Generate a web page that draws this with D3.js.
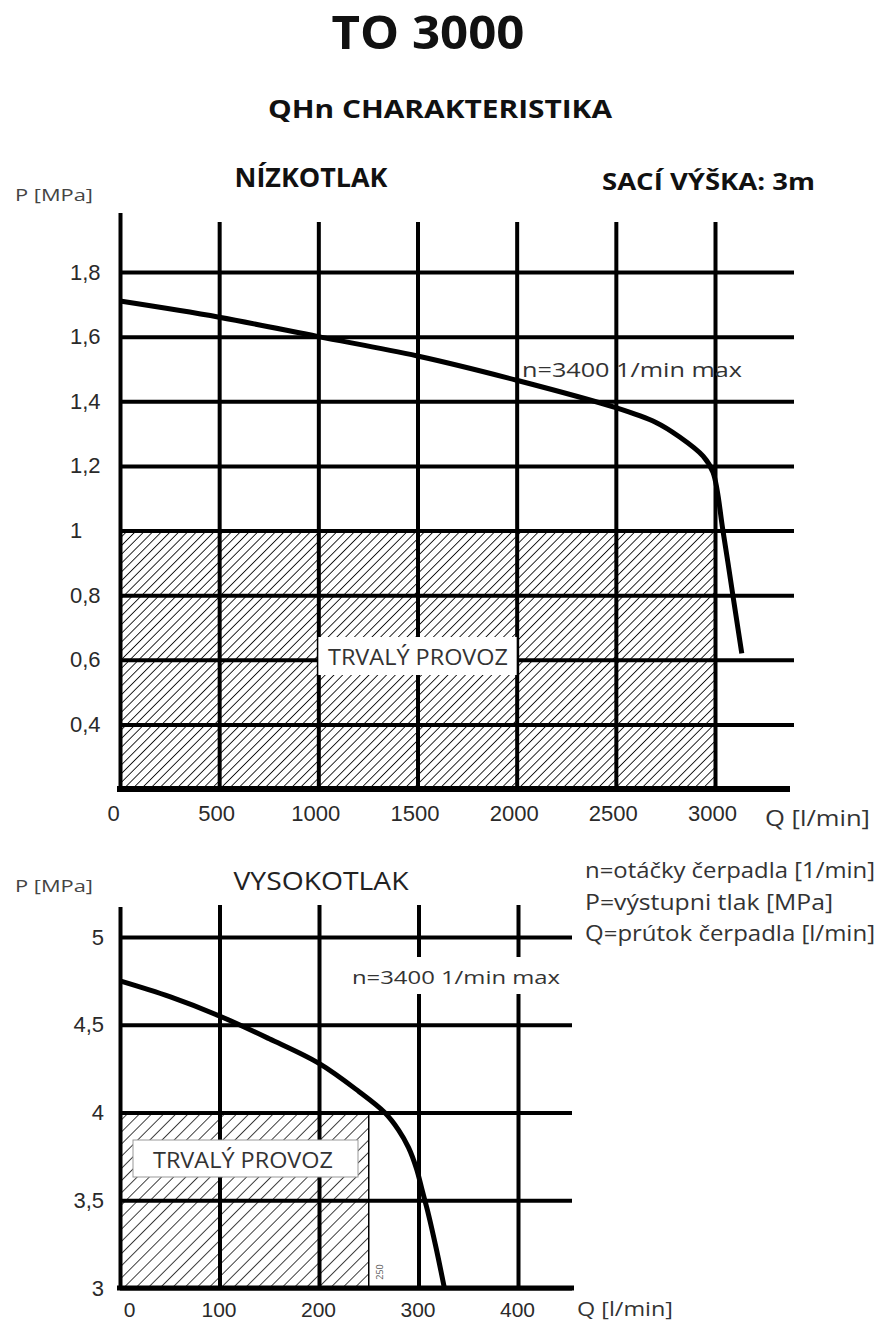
<!DOCTYPE html>
<html>
<head>
<meta charset="utf-8">
<script src="https://cdn.jsdelivr.net/npm/d3@7"></script>
<style>
  body { margin: 0; background: #fff; }
  svg { display: block; font-family: "Open Sans", "Noto Sans", sans-serif; }
  .tick text { fill: #2a2a2a; }
</style>
</head>
<body>
<div id="chart"></div>
<script>
        // Top chart (NÍZKOTLAK) data
        const lowQTicks = [0, 500, 1000, 1500, 2000, 2500, 3000];
        const lowPTicks = [0.4, 0.6, 0.8, 1, 1.2, 1.4, 1.6, 1.8];
        const lowCurveQ = [0, 500, 1000, 1500, 2000, 2500, 2700, 2820, 2940, 2990, 3040, 3090, 3135];
        const lowCurveP = [1.71, 1.66, 1.60, 1.54, 1.465, 1.38, 1.335, 1.29, 1.23, 1.18, 1.0, 0.8, 0.62];
        const lowZoneQ = [0, 3000];
        const lowZoneP = [0.2, 1.0];

        // Bottom chart (VYSOKOTLAK) data
        const highQTicks = [0, 100, 200, 300, 400];
        const highPTicks = [3, 3.5, 4, 4.5, 5];
        const highCurveQ = [0, 50, 100, 150, 200, 240, 266, 280, 290, 298, 304, 310, 318, 326];
        const highCurveP = [4.75, 4.66, 4.55, 4.42, 4.28, 4.12, 4.0, 3.9, 3.8, 3.68, 3.55, 3.42, 3.22, 3.0];
        const highZoneQ = [0, 250];
        const highZoneP = [3, 4];

        const legendLines = ["n=otáčky čerpadla [1/min]", "P=výstupni tlak [MPa]", "Q=prútok čerpadla [l/min]"];
        const legendWidths = [290, 248, 290];
        const fmt = d => String(d).replace(".", ",");

        const svg = d3.select("#chart").append("svg")
            .attr("width", 877).attr("height", 1321);

        const defs = svg.append("defs");
        function hatch(id, gap, w) {
            const p = defs.append("pattern")
                .attr("id", id)
                .attr("patternUnits", "userSpaceOnUse")
                .attr("width", gap).attr("height", gap)
                .attr("patternTransform", "rotate(45)");
            p.append("line")
                .attr("x1", 0).attr("y1", 0).attr("x2", 0).attr("y2", gap)
                .attr("stroke", "#111").attr("stroke-width", w);
        }
        hatch("hatchLow", 6.2, 1.8);
        hatch("hatchHigh", 8.6, 1.6);

        function label(txt, x, y, size, opts = {}) {
            const t = svg.append("text")
                .attr("x", x).attr("y", y)
                .attr("font-size", size)
                .attr("font-weight", opts.bold ? 700 : 400)
                .attr("fill", opts.color || "#222")
                .attr("text-anchor", opts.anchor || "start")
                .text(txt);
            if (opts.len) t.attr("textLength", opts.len).attr("lengthAdjust", "spacingAndGlyphs");
            return t;
        }

        // Headings
        label("TO 3000", 428, 49, 47, {bold: true, anchor: "middle", color: "#111", len: 193});
        label("QHn CHARAKTERISTIKA", 440, 118, 25, {bold: true, anchor: "middle", color: "#111", len: 344});

        // ---------- Top chart ----------
        const x1 = d3.scaleLinear().domain([0, 3000]).range([120, 715]);
        const y1 = d3.scaleLinear().domain([0.2, 1.8]).range([789, 272]);
        const top1 = 222, right1 = 794;

        const g1 = svg.append("g");

        g1.append("rect")
            .attr("x", x1(lowZoneQ[0])).attr("y", y1(lowZoneP[1]))
            .attr("width", x1(lowZoneQ[1]) - x1(lowZoneQ[0]))
            .attr("height", y1(lowZoneP[0]) - y1(lowZoneP[1]))
            .attr("fill", "url(#hatchLow)");

        const yAx1 = g1.append("g")
            .attr("transform", `translate(${x1(0)},0)`)
            .call(d3.axisLeft(y1).tickValues(lowPTicks).tickFormat(fmt)
                .tickSizeInner(-(right1 - x1(0))).tickSizeOuter(0));
        yAx1.select(".domain").remove();
        yAx1.selectAll(".tick line").attr("stroke", "#000").attr("stroke-width", 4);
        yAx1.selectAll(".tick text").attr("x", -50).attr("text-anchor", "start")
            .attr("font-size", 22).attr("font-family", null);

        const xAx1 = g1.append("g")
            .attr("transform", `translate(0,${y1(0.2)})`)
            .call(d3.axisBottom(x1).tickValues(lowQTicks).tickFormat(d => String(d))
                .tickSizeInner(-(y1(0.2) - top1)).tickSizeOuter(0));
        xAx1.select(".domain").remove();
        xAx1.selectAll(".tick line").attr("stroke", "#000").attr("stroke-width", 4)
            .filter(d => d === 0).attr("y2", -(y1(0.2) - 213));
        xAx1.selectAll(".tick text").attr("y", 32).attr("dy", null).attr("dx", d => d === 0 ? -7 : -3)
            .attr("font-size", 22).attr("font-family", null);

        g1.append("line")
            .attr("x1", x1(0) - 3).attr("x2", 790)
            .attr("y1", y1(0.2)).attr("y2", y1(0.2))
            .attr("stroke", "#000").attr("stroke-width", 6);

        // TRVALÝ PROVOZ box (top)
        g1.append("rect")
            .attr("x", x1(1000)).attr("y", 637)
            .attr("width", x1(2000) - x1(1000)).attr("height", 38)
            .attr("fill", "#fff");
        label("TRVALÝ PROVOZ", 418, 665, 21, {anchor: "middle", color: "#333", len: 180});

        const line1 = d3.line()
            .x((d, i) => x1(lowCurveQ[i])).y(d => y1(d))
            .curve(d3.curveCatmullRom.alpha(0.5));
        g1.append("path").datum(lowCurveP)
            .attr("d", line1).attr("fill", "none")
            .attr("stroke", "#000").attr("stroke-width", 5);

        label("n=3400 1/min max", 522, 377, 20, {color: "#333", len: 220});
        label("P [MPa]", 15, 201, 17, {color: "#444", len: 78});
        label("NÍZKOTLAK", 311, 187, 26, {bold: true, anchor: "middle", color: "#111", len: 153});
        label("SACÍ VÝŠKA: 3m", 602, 190, 23, {bold: true, color: "#111", len: 213});
        label("Q [l/min]", 765, 826, 21, {color: "#333", len: 105});

        // ---------- Bottom chart ----------
        const x2 = d3.scaleLinear().domain([0, 400]).range([120, 518]);
        const y2 = d3.scaleLinear().domain([3, 5]).range([1288, 937]);
        const top2 = 905, right2 = 572;

        const g2 = svg.append("g");

        g2.append("rect")
            .attr("x", x2(highZoneQ[0])).attr("y", y2(highZoneP[1]))
            .attr("width", x2(highZoneQ[1]) - x2(highZoneQ[0]))
            .attr("height", y2(highZoneP[0]) - y2(highZoneP[1]))
            .attr("fill", "url(#hatchHigh)");
        g2.append("line")
            .attr("x1", x2(highZoneQ[1])).attr("x2", x2(highZoneQ[1]))
            .attr("y1", y2(highZoneP[1])).attr("y2", y2(highZoneP[0]))
            .attr("stroke", "#000").attr("stroke-width", 1.5);

        const yAx2 = g2.append("g")
            .attr("transform", `translate(${x2(0)},0)`)
            .call(d3.axisLeft(y2).tickValues(highPTicks).tickFormat(fmt)
                .tickSizeInner(-(right2 - x2(0))).tickSizeOuter(0));
        yAx2.select(".domain").remove();
        yAx2.selectAll(".tick line").attr("stroke", "#000").attr("stroke-width", 4);
        yAx2.selectAll(".tick text").attr("x", -16)
            .attr("font-size", 22).attr("font-family", null);

        const xAx2 = g2.append("g")
            .attr("transform", `translate(0,${y2(3)})`)
            .call(d3.axisBottom(x2).tickValues(highQTicks).tickFormat(d => String(d))
                .tickSizeInner(-(y2(3) - top2)).tickSizeOuter(0));
        xAx2.select(".domain").remove();
        xAx2.selectAll(".tick line").attr("stroke", "#000").attr("stroke-width", 4)
            .filter(d => d === 0).attr("y2", -(y2(3) - 907));
        xAx2.selectAll(".tick text").attr("y", 29).attr("dy", null).attr("dx", d => d === 0 ? 9 : -1)
            .attr("font-size", 21).attr("font-family", null);

        g2.append("line")
            .attr("x1", x2(0) - 3).attr("x2", 574)
            .attr("y1", y2(3)).attr("y2", y2(3))
            .attr("stroke", "#000").attr("stroke-width", 5);

        // white backing behind the curve label
        g2.append("rect")
            .attr("x", 348).attr("y", 957)
            .attr("width", 218).attr("height", 37)
            .attr("fill", "#fff");
        label("n=3400 1/min max", 352, 984, 19, {color: "#333", len: 208});

        // TRVALÝ PROVOZ box (bottom)
        g2.append("rect")
            .attr("x", 133).attr("y", 1140)
            .attr("width", 225).attr("height", 37)
            .attr("fill", "#fff").attr("stroke", "#999").attr("stroke-width", 1);
        label("TRVALÝ PROVOZ", 243, 1168, 21, {anchor: "middle", color: "#333", len: 180});

        svg.append("text")
            .attr("transform", `translate(${x2(highZoneQ[1]) + 14},1272) rotate(-90)`)
            .attr("text-anchor", "middle")
            .attr("font-size", 9).attr("fill", "#555")
            .text(String(highZoneQ[1]));

        const line2 = d3.line()
            .x((d, i) => x2(highCurveQ[i])).y(d => y2(d))
            .curve(d3.curveCatmullRom.alpha(0.5));
        g2.append("path").datum(highCurveP)
            .attr("d", line2).attr("fill", "none")
            .attr("stroke", "#000").attr("stroke-width", 5);

        label("P [MPa]", 15, 892, 17, {color: "#444", len: 78});
        label("VYSOKOTLAK", 321, 890, 25, {anchor: "middle", color: "#222", len: 175});
        label("Q [l/min]", 577, 1316, 20, {color: "#333", len: 96});

        legendLines.forEach((t, i) => {
            label(t, 585, 878 + i * 31.5, 21, {color: "#333", len: legendWidths[i]});
        });
</script>
</body>
</html>
